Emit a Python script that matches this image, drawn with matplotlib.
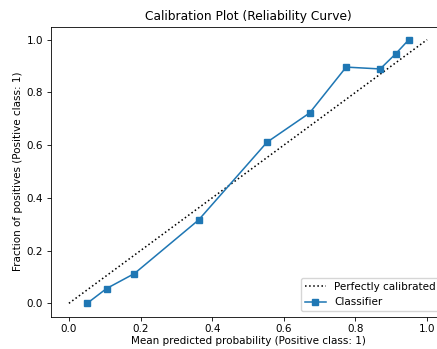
import matplotlib
matplotlib.use("Agg")
import matplotlib.pyplot as plt

# values
mean_pred = [0.051, 0.105, 0.183, 0.362, 0.553, 0.672, 0.774, 0.869, 0.912, 0.949]
frac_pos = [0.0, 0.056, 0.113, 0.316, 0.611, 0.722, 0.896, 0.889, 0.946, 1.0]
ideal = [0, 1]

scale = 0.745
plt.rcParams["font.size"] = 10 * scale
plt.rcParams["lines.linewidth"] = 1.5 * scale
plt.rcParams["lines.markersize"] = 6 * scale
plt.rcParams["axes.linewidth"] = 0.8 * scale
plt.rcParams["xtick.major.width"] = 0.8 * scale
plt.rcParams["ytick.major.width"] = 0.8 * scale
plt.rcParams["xtick.major.size"] = 3.5 * scale
plt.rcParams["ytick.major.size"] = 3.5 * scale
plt.rcParams["xtick.major.pad"] = 3.0
plt.rcParams["ytick.major.pad"] = 3.0

fig = plt.figure(figsize=(4.37, 3.49), dpi=100)
# axes run past the right edge, like the cropped reference
ax = fig.add_axes([51 / 437, 32.5 / 349, 394 / 437, 290 / 349])

ax.plot(ideal, ideal, "k:", label="Perfectly calibrated")
ax.plot(mean_pred, frac_pos, "s-", color="#1f77b4", label="Classifier")

ax.set_xlim(-0.05, 1.05)
ax.set_ylim(-0.05, 1.05)
ax.set_xlabel("Mean predicted probability (Positive class: 1)", labelpad=1.5)
ax.set_ylabel("Fraction of positives (Positive class: 1)", labelpad=3)
ax.set_title("Calibration Plot (Reliability Curve)", fontsize=11.8 * scale, pad=4.5)
ax.legend(loc="lower right")

fig.savefig("out.png", dpi=100)
